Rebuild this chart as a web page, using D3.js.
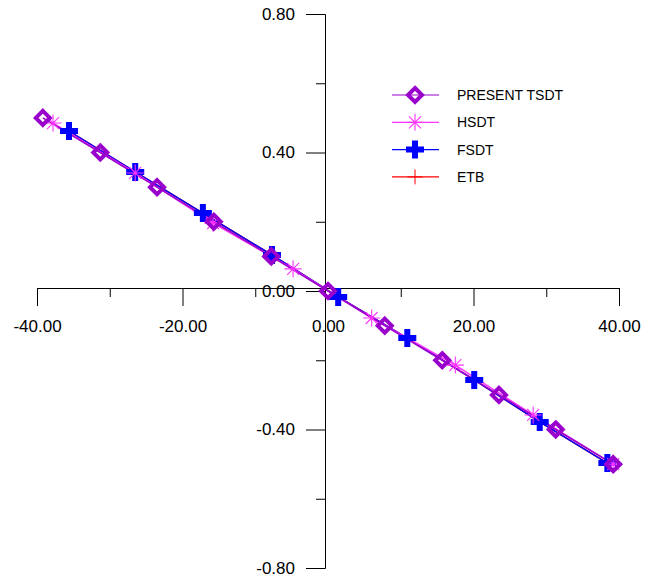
<!DOCTYPE html>
<html>
<head>
<meta charset="utf-8">
<script src="https://cdn.jsdelivr.net/npm/d3@7"></script>
<style>
  body { margin: 0; background: #fff; }
  text { font-family: "Liberation Sans", Arial, Helvetica, sans-serif; }
</style>
</head>
<body>
<main></main>
<script>
      // series
      var presentX = [-39.2, -31.3, -23.5, -15.7, -7.8, 0, 7.8, 15.7, 23.5, 31.3, 39.2];
      var presentY = [0.50, 0.40, 0.30, 0.20, 0.10, 0.00, -0.10, -0.20, -0.30, -0.40, -0.50];
      var hsdtX = [-37.8, -26.5, -15.8, -4.8, 6.0, 17.5, 28.2, 39.2];
      var hsdtY = [0.485, 0.341, 0.196, 0.064, -0.078, -0.214, -0.358, -0.50];
      var fsdtX = [-35.6, -26.5, -17.2, -7.7, 1.4, 10.9, 20.1, 29.1, 38.4];
      var fsdtY = [0.462, 0.344, 0.225, 0.104, -0.017, -0.136, -0.257, -0.378, -0.497];
      // ETB marks sit under the FSDT crosses
      var etbX = [-35.6, -26.5, -17.2, -7.7, 1.4, 10.9, 20.1, 29.1, 38.4];
      var etbY = [0.462, 0.344, 0.225, 0.104, -0.017, -0.136, -0.257, -0.378, -0.497];

      var xMajor = [-40, -20, 0, 20, 40];
      var xMinor = [-30, -10, 10, 30];
      var yMajor = [-0.8, -0.4, 0, 0.4, 0.8];
      var yMinor = [-0.6, -0.2, 0.2, 0.6];

      var names = ["PRESENT TSDT", "HSDT", "FSDT", "ETB"];
      var colors = ["#9900cc", "#ff33ff", "#0000ff", "#ff0000"];
      var marks = ["diamond", "star", "bigplus", "plus"];

      var w = 657, h = 579;
      var svg = d3.select("main")
                  .append("svg")
                  .attr("width", w)
                  .attr("height", h);

      var x = d3.scaleLinear().domain([-40, 40]).range([37, 619]);
      var y = d3.scaleLinear().domain([-0.8, 0.8]).range([568, 14]);

      // the axes cross a little up-left of the data origin in the reference
      var axX = x(0) - 3, axY = y(0) - 3;
      var fmt = function(d) { return d.toFixed(2); };

      var gx = svg.append("g").attr("transform", "translate(0," + axY + ")");
      gx.call(d3.axisBottom(x).tickValues(xMinor).tickSize(9).tickSizeOuter(0).tickFormat(""));
      var gxm = svg.append("g").attr("transform", "translate(0," + axY + ")");
      gxm.call(d3.axisBottom(x).tickValues(xMajor).tickSize(18).tickSizeOuter(0).tickPadding(14).tickFormat(fmt));
      gxm.selectAll(".tick").filter(function(d) { return d === 0; }).select("line").remove();

      var gy = svg.append("g").attr("transform", "translate(" + axX + ",0)");
      gy.call(d3.axisLeft(y).tickValues(yMinor).tickSize(9).tickSizeOuter(0).tickFormat(""));
      var gym = svg.append("g").attr("transform", "translate(" + axX + ",0)");
      gym.call(d3.axisLeft(y).tickValues(yMajor).tickSize(19).tickSizeOuter(0).tickPadding(11).tickFormat(fmt));

      svg.selectAll(".domain").attr("stroke", "#000");
      svg.selectAll(".tick line").attr("stroke", "#000");
      svg.selectAll(".tick text")
         .attr("fill", "#000")
         .style("font-size", "17px")
         .style("font-family", "'Liberation Sans', Arial, sans-serif");

      function marker(g, kind, color) {
        if (kind == "diamond") {
          g.append("path")
           .attr("d", "M0,-7L7,0L0,7L-7,0Z")
           .attr("fill", "none")
           .attr("stroke", color)
           .attr("stroke-width", 4);
        } else if (kind == "star") {
          g.append("path")
           .attr("d", "M-8.5,0L8.5,0M0,-8.5L0,8.5M-6,-6L6,6M-6,6L6,-6")
           .attr("stroke", color)
           .attr("stroke-width", 1.1);
        } else if (kind == "bigplus") {
          g.append("path")
           .attr("d", "M-3,-9H3V-3H9V3H3V9H-3V3H-9V-3H-3Z")
           .attr("fill", color);
        } else {
          g.append("path")
           .attr("d", "M-7.5,0L7.5,0M0,-7.5L0,7.5")
           .attr("stroke", color)
           .attr("stroke-width", 1);
        }
      }

      var series = [
        {xs: presentX, ys: presentY},
        {xs: hsdtX, ys: hsdtY},
        {xs: fsdtX, ys: fsdtY},
        {xs: etbX, ys: etbY}
      ];

      var line = d3.line()
                   .x(function(d) { return x(d[0]); })
                   .y(function(d) { return y(d[1]); });

      // draw back to front: ETB, FSDT, HSDT, PRESENT
      [3, 2, 1, 0].forEach(function(i) {
        var pts = series[i].xs.map(function(v, j) { return [v, series[i].ys[j]]; });
        svg.append("path")
           .datum(pts)
           .attr("d", line)
           .attr("fill", "none")
           .attr("stroke", colors[i])
           .attr("stroke-width", 1.5);
      });
      [3, 2, 1, 0].forEach(function(i) {
        var pts = series[i].xs.map(function(v, j) { return [v, series[i].ys[j]]; });
        svg.append("g").selectAll("g")
           .data(pts)
           .enter()
           .append("g")
           .attr("transform", function(d) {
             return "translate(" + x(d[0]) + "," + y(d[1]) + ")";
           })
           .each(function() { marker(d3.select(this), marks[i], colors[i]); });
      });

      var legend = svg.append("g");
      names.forEach(function(n, i) {
        var ly = 95 + i * 27.3;
        legend.append("line")
              .attr("x1", 392).attr("x2", 439)
              .attr("y1", ly).attr("y2", ly)
              .attr("stroke", colors[i])
              .attr("stroke-width", 1.2);
        var m = legend.append("g").attr("transform", "translate(415," + ly + ")");
        marker(m, marks[i], colors[i]);
        legend.append("text")
              .attr("x", 457)
              .attr("y", ly)
              .attr("dy", "0.36em")
              .style("font-size", "14px")
              .attr("fill", "#000")
              .text(n);
      });
</script>
</body>
</html>
